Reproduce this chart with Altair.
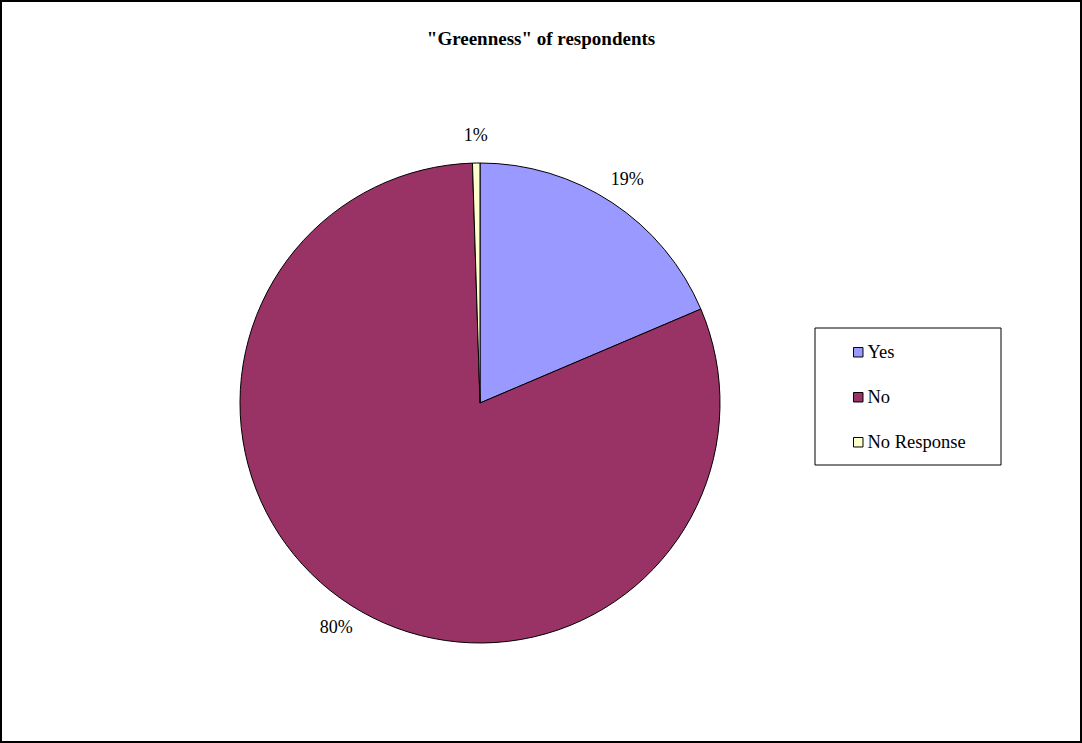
import altair as alt
import pandas as pd

categories = ["Yes", "No", "No Response"]
values = [18.6, 80.9, 0.5]
labels = ["19%", "80%", "1%"]
colors = ["#9999FF", "#993366", "#FFFFCC"]
title_text = '"Greenness" of respondents'

df = pd.DataFrame({
    "category": categories,
    "value": values,
    "label": labels,
    "order": list(range(len(categories))),
})

CX, CY, R = 479, 402, 240
FONT = "Liberation Serif"

base = alt.Chart(df)

legend_box = alt.Chart(pd.DataFrame({"k": [0]})).mark_rect(
    fill="white", stroke="black", strokeWidth=1
).encode(
    x=alt.value(814), x2=alt.value(1000),
    y=alt.value(327), y2=alt.value(464),
)

pie = base.mark_arc(stroke="black", strokeWidth=1, radius=R).encode(
    theta=alt.Theta("value:Q", stack=True),
    order=alt.Order("order:Q"),
    color=alt.Color(
        "category:N",
        scale=alt.Scale(domain=categories, range=colors),
        sort=categories,
        legend=alt.Legend(
            title=None,
            orient="none",
            legendX=848,
            legendY=342,
            symbolType="square",
            symbolSize=90,
            symbolStrokeColor="black",
            symbolStrokeWidth=1,
            labelFont=FONT,
            labelFontSize=18.5,
            labelColor="black",
            labelOffset=0,
            rowPadding=26,
            padding=0,
            labelLimit=300,
        ),
    ),
    x=alt.value(CX),
    y=alt.value(CY),
)

text = base.mark_text(radius=267, font=FONT, fontSize=18, color="black").encode(
    theta=alt.Theta("value:Q", stack=True),
    order=alt.Order("order:Q"),
    text="label:N",
    x=alt.value(CX),
    y=alt.value(CY),
)

chart = alt.layer(legend_box, pie, text).properties(
    width=1080,
    height=741,
    autosize=alt.AutoSizeParams(type="none"),
    padding={"left": 1, "top": 1, "right": 1, "bottom": 1},
    background="white",
    title=alt.TitleParams(
        text=title_text,
        font=FONT,
        fontSize=19,
        fontWeight="bold",
        color="black",
        anchor="middle",
        baseline="alphabetic",
        dy=67,
    ),
).configure_view(stroke="black", strokeWidth=2)

chart.save("out.html", embed_options={"renderer": "svg", "actions": False})
